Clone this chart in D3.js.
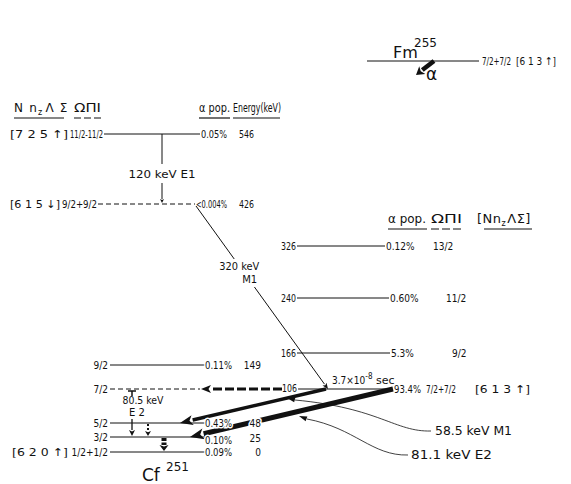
<!DOCTYPE html>
<html><head><meta charset="utf-8">
<script src="https://cdn.jsdelivr.net/npm/d3@7"></script>
<style>
body{margin:0;background:#fff}
text{font-family:"DejaVu Sans Condensed","Liberation Sans Narrow","DejaVu Sans",sans-serif;fill:#111}
.w{font-family:"DejaVu Sans",sans-serif}
</style>
</head><body><svg id="c" width="571" height="484"></svg>
<script>
// ---------------- data ----------------
// Cf-251 ground band (K=1/2+ [620↑])
const groundEnergies = [0, 25, 48, 106, 149];
const groundSpins    = ["1/2+1/2", "3/2", "5/2", "7/2", "9/2"];
const groundPops     = ["0.09%", "0.10%", "0.43%", "", "0.11%"];
// higher single-particle states (left column)
const upperEnergies  = [426, 546];
const upperSpins     = ["9/2+9/2", "11/2-11/2"];
const upperNilsson   = ["[6 1 5 \u2193]", "[7 2 5 \u2191]"];
const upperPops      = ["<0.004%", "0.05%"];
// rotational band built on 7/2+[613↑] (right column)
const bandEnergies   = [106, 166, 240, 326];
const bandSpins      = ["7/2+7/2", "9/2", "11/2", "13/2"];
const bandPops       = ["93.4%", "5.3%", "0.60%", "0.12%"];
// gamma transitions: from, to (keV), label
const gammaFrom   = [546, 426, 106, 106];
const gammaTo     = [426, 106, 48, 25];
const gammaLabels = ["120 keV  E1", "320 keV|M1", "58.5 keV  M1", "81.1 keV  E2"];
const groundGammaLabel = ["80.5 keV", "E 2"];
const isomerHalfLife = ["3.7\u00d710", "-8", " sec"];
const parentLabel = ["Fm", "255"], daughterLabel = ["Cf", "251"];
const parentState = ["7/2+7/2", "[6 1 3 \u2191]"];
const headLeft = ["N n", "z", "\u039b \u03a3", "\u03a9\u03a0I", "\u03b1 pop.", "Energy(keV)"];
const headRight = ["\u03b1 pop.", "\u03a9\u03a0I", "[Nn", "z", "\u039b\u03a3]"];

// ---------------- layout ----------------
const svg = d3.select("#c");
const y = d3.scaleLinear()
  .domain([0, 25, 48, 106, 149, 166, 240, 326, 426, 546])
  .range([452, 437, 423, 389, 365, 353, 298, 246, 204, 134]);

function arrow(g, x1, y1, x2, y2, w, hl, hw, dash) {
  const dx = x2 - x1, dy = y2 - y1, L = Math.hypot(dx, dy), ux = dx / L, uy = dy / L;
  const bx = x2 - ux * hl, by = y2 - uy * hl;
  g.append("line").attr("x1", x1).attr("y1", y1).attr("x2", bx).attr("y2", by)
    .attr("stroke", "#111").attr("stroke-width", w).attr("stroke-dasharray", dash || null);
  g.append("path").attr("d", `M${x2},${y2}L${bx - uy * hw},${by + ux * hw}L${bx + ux * hl * 0.25},${by + uy * hl * 0.25}L${bx + uy * hw},${by - ux * hw}Z`)
    .attr("fill", "#111");
}
function halo(sel) { return sel.attr("stroke", "#fff").attr("stroke-width", 3).attr("paint-order", "stroke"); }
function txt(x, yy, s, size, cls, anchor) {
  return svg.append("text").attr("x", x).attr("y", yy).attr("font-size", size)
    .attr("class", cls || null).attr("text-anchor", anchor || "start").text(s);
}
function fit(sel, w) { return sel.attr("textLength", w).attr("lengthAdjust", "spacingAndGlyphs"); }

// ---- parent Fm-255 ----
txt(393, 58, parentLabel[0], 16, "w");
txt(414, 47, parentLabel[1], 12, "w");
svg.append("line").attr("x1", 367).attr("x2", 479).attr("y1", 61).attr("y2", 61).attr("stroke", "#111").attr("stroke-width", 1);
fit(txt(482, 65, parentState[0], 10), 29);
fit(txt(516, 65, parentState[1], 11, "w"), 40);
arrow(svg, 434, 61, 416, 75, 4.5, 8, 5);
txt(426, 80, "\u03b1", 17, "w");

// ---- left headers ----
const hl = svg.append("text").attr("x", 14).attr("y", 112).attr("font-size", 12).attr("class", "w").attr("letter-spacing", 1.2);
hl.append("tspan").text(headLeft[0]);
hl.append("tspan").attr("dy", 3).attr("font-size", 8).text(headLeft[1]);
hl.append("tspan").attr("dy", -3).attr("dx", 2).text(headLeft[2]);
fit(txt(74, 112, headLeft[3], 12, "w"), 27);
fit(txt(199, 112, headLeft[4], 12), 31);
fit(txt(233, 112, headLeft[5], 13), 48);
[[14, 64], [199, 230], [233, 280]].forEach(d => svg.append("line").attr("x1", d[0]).attr("x2", d[1]).attr("y1", 118).attr("y2", 118).attr("stroke", "#111").attr("stroke-width", 1.2));
svg.append("line").attr("x1", 74).attr("x2", 101).attr("y1", 118).attr("y2", 118).attr("stroke", "#111").attr("stroke-width", 1.2).attr("stroke-dasharray", "7,3");

// ---- right headers ----
fit(txt(388, 223, headRight[0], 13), 38);
fit(txt(431, 223, headRight[1], 13, "w"), 31);
const hr = svg.append("text").attr("x", 477).attr("y", 223).attr("font-size", 13).attr("class", "w").attr("letter-spacing", 0.5);
hr.append("tspan").text(headRight[2]);
hr.append("tspan").attr("dy", 3).attr("font-size", 8).text(headRight[3]);
hr.append("tspan").attr("dy", -3).attr("dx", 1).text(headRight[4]);
[[388, 427], [484, 532]].forEach(d => svg.append("line").attr("x1", d[0]).attr("x2", d[1]).attr("y1", 229).attr("y2", 229).attr("stroke", "#111").attr("stroke-width", 1.2));
svg.append("line").attr("x1", 431).attr("x2", 462).attr("y1", 229).attr("y2", 229).attr("stroke", "#111").attr("stroke-width", 1.2).attr("stroke-dasharray", "8,3");

// ---- upper single-particle levels ----
const upperLine = [[98, 195, "5,3"], [104, 200, null]];
const upperPopW = [31, 26];
upperEnergies.forEach((e, i) => {
  const yy = y(e);
  fit(txt(10, yy + 4, upperNilsson[i], 11, "w"), i === 0 ? 50 : 58);
  fit(txt(upperLine[i][0] - 1, yy + 4, upperSpins[i], 10, null, "end"), i === 0 ? 35 : 33);
  svg.append("line").attr("x1", upperLine[i][0]).attr("x2", upperLine[i][1]).attr("y1", yy).attr("y2", yy)
    .attr("stroke", "#111").attr("stroke-width", 1).attr("stroke-dasharray", upperLine[i][2]);
  fit(txt(upperLine[i][1] + 1, yy + 4, upperPops[i], 10), upperPopW[i]);
  fit(txt(239, yy + 4, e, 10), 15);
});

// ---- band levels (right) ----
const bandLineEnd = [392, 390, 389, 385];
const bandSpinX = [0, 452, 446, 433];
bandEnergies.forEach((e, i) => {
  const yy = y(e);
  const x0 = i === 0 ? 298 : 297;
  svg.append("line").attr("x1", x0).attr("x2", bandLineEnd[i]).attr("y1", yy).attr("y2", yy).attr("stroke", "#111").attr("stroke-width", 1);
  if (i === 0) {
    halo(fit(txt(282, yy + 3, e, 10), 15));
    fit(txt(394, yy + 4, bandPops[i], 10), 27);
    fit(txt(426, yy + 4, bandSpins[i], 10), 30);
    fit(txt(475, yy + 4, parentState[1], 11, "w"), 55);
  } else {
    fit(txt(296, yy + 4, e, 10, null, "end"), 15);
    txt(bandLineEnd[i] + 1, yy + 4, bandPops[i], 10);
    txt(bandSpinX[i], yy + 4, bandSpins[i], 10);
  }
});

// ---- ground band levels (left) ----
groundEnergies.forEach((e, i) => {
  const yy = y(e);
  if (i === 3) {
    svg.append("line").attr("x1", 110).attr("x2", 200).attr("y1", yy).attr("y2", yy).attr("stroke", "#111").attr("stroke-width", 1).attr("stroke-dasharray", "5,3");
  } else {
    svg.append("line").attr("x1", 110).attr("x2", 205).attr("y1", yy).attr("y2", yy).attr("stroke", "#111").attr("stroke-width", 1);
  }
  txt(108, yy + 4, groundSpins[i], 10, null, "end");
  if (i === 0) fit(txt(12, yy + 4, "[6 2 0 \u2191]", 11, "w"), 56);
});

// ---- transitions ----
// 120 keV E1 (vertical)
svg.append("line").attr("x1", 162).attr("x2", 162).attr("y1", y(gammaFrom[0])).attr("y2", 164).attr("stroke", "#111");
arrow(svg, 162, 183, 162, y(gammaTo[0]) - 1, 1, 4, 2);
fit(txt(162, 178, gammaLabels[0], 11, "w", "middle"), 67);
// 320 keV M1 diagonal (label sits on the line, between the 326 and 240 levels)
{
  const x1 = 196, y1 = y(gammaFrom[1]) + 2, x2 = 328, y2 = y(gammaTo[1]);
  const xAt = yy => x1 + (x2 - x1) * (yy - y1) / (y2 - y1);
  const ga = 259, gb = 287;
  svg.append("line").attr("x1", x1).attr("y1", y1).attr("x2", xAt(ga)).attr("y2", ga).attr("stroke", "#111");
  arrow(svg, xAt(gb), gb, x2, y2, 1, 6, 2.5);
  const parts = gammaLabels[1].split("|");
  fit(txt(xAt(266), 270, parts[0], 11, "w", "middle"), 40);
  txt(xAt(279) + 1, 283, parts[1], 10, "w", "middle");
}
// thick dashed horizontal 106 -> ground 7/2
arrow(svg, 282, y(106), 201, y(106), 3, 10, 4, "9,3");
// 58.5 keV M1 : 106 -> 48
arrow(svg, 326, y(gammaFrom[2]), 180, y(gammaTo[2]), 3.5, 13, 5);
// 81.1 keV E2 : 106 -> 25
arrow(svg, 393, y(gammaFrom[3]), 190, y(gammaTo[3]), 5, 14, 5.5);

// labels over lines
groundPops.forEach((p, i) => {
  if (!p) return;
  const yy = y(groundEnergies[i]);
  halo(fit(txt(205, yy + (i === 1 ? 7 : 4), p, 10), 27));
  halo(txt(261, yy + (i === 1 ? 5 : 4), groundEnergies[i], 10, null, "end"));
});
// isomer half life
{
  const t = txt(332, 384, isomerHalfLife[0], 10);
  t.append("tspan").attr("dy", -5).attr("font-size", 8).text(isomerHalfLife[1]);
  t.append("tspan").attr("dy", 5).attr("font-size", 11).attr("class", "w").text(isomerHalfLife[2]);
}
// pointer curves
function pointer(d, ex, ey, ang) {
  svg.append("path").attr("d", d).attr("fill", "none").attr("stroke", "#111").attr("stroke-width", 0.8);
  const hl2 = 8, hw = 2.5, ux = Math.cos(ang), uy = Math.sin(ang);
  const bx = ex - ux * hl2, by = ey - uy * hl2;
  svg.append("path").attr("d", `M${ex},${ey}L${bx - uy * hw},${by + ux * hw}L${bx + uy * hw},${by - ux * hw}Z`).attr("fill", "#111");
}
pointer("M431,431 C395,432 380,408 295,400", 287, 398, Math.atan2(-2, -8));
fit(txt(435, 435, gammaLabels[2], 12, "w"), 77);
pointer("M408,455 C372,456 355,428 307,419", 299, 416, Math.atan2(-3, -8));
fit(txt(411, 459, gammaLabels[3], 12, "w"), 81);

// ground band intraband gammas
svg.append("line").attr("x1", 128).attr("x2", 136).attr("y1", 391).attr("y2", 391).attr("stroke", "#111").attr("stroke-width", 1.5);
svg.append("line").attr("x1", 132).attr("x2", 132).attr("y1", 391).attr("y2", 396).attr("stroke", "#111").attr("stroke-width", 1.5);
fit(txt(143, 404, groundGammaLabel[0], 10, "w", "middle"), 41);
txt(137, 416, groundGammaLabel[1], 10, "w", "middle");
arrow(svg, 132, 419, 132, y(25) - 1, 1.3, 6, 3);
arrow(svg, 148, y(48) + 1, 148, y(25) - 1, 2, 5, 3, "2,2");
arrow(svg, 164, y(25) + 1, 164, y(0) - 1, 5, 6, 4.5, "3,1.5");

// daughter Cf-251
txt(142, 481, daughterLabel[0], 17, "w");
txt(166, 471, daughterLabel[1], 12, "w");
</script></body></html>
